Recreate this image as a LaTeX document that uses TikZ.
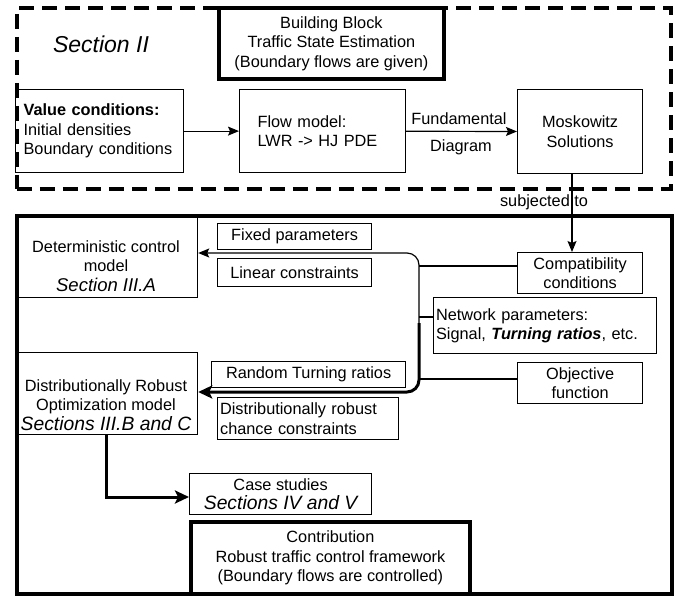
\documentclass[tikz,border=0pt]{standalone}
\usepackage{fontspec}
\setmainfont{Liberation Sans}
\usetikzlibrary{arrows.meta}
\newcommand{\nf}{\fontsize{16.3}{19.5}\selectfont}
\newcommand{\itbig}{\fontsize{19.3}{21}\selectfont\itshape}
\begin{document}
\begin{tikzpicture}[x=1pt,y=-1pt,
  every node/.style={font=\nf, inner sep=0pt},
  box/.style={draw, line width=1.2pt, anchor=north west, align=center},
  thickbox/.style={box, line width=3.8pt},
  dashbox/.style={draw, line width=3.8pt, dash pattern=on 15pt off 8pt, anchor=north west},
  conn/.style={line width=1.2pt, -{Stealth[length=11pt,width=9pt,inset=2pt]}},
  plainconn/.style={line width=1.2pt},
  bigconn/.style={line width=3pt, -{Stealth[length=14pt,width=13pt,inset=3pt]}}]
\useasboundingbox (0,0) rectangle (686,595);
% Section II
\node[dashbox, minimum width=654pt, minimum height=181pt] (sec) at (15,6) {};
\node (seclbl) at (101,44) {\fontsize{23}{26}\selectfont\itshape Section II};
\node[thickbox, minimum width=225pt, minimum height=71pt] (bb) at (217,6)
  {Building Block\\Traffic State Estimation\\(Boundary flows are given)};
\node[box, minimum width=168pt, minimum height=83pt, text width=152pt, align=left] (val) at (15,89)
  {\textbf{Value conditions:}\\Initial densities\\Boundary conditions};
\node[box, minimum width=166pt, minimum height=83pt, text width=130pt, align=left] (flow) at (239,89)
  {Flow model:\\LWR -> HJ PDE};
\node[box, minimum width=125pt, minimum height=84pt] (mosk) at (517,89)
  {Moskowitz\\Solutions};
\draw[conn] (val) -- (flow);
\draw[conn] (flow) -- (mosk);
\node (fund) at (459,119) {Fundamental};
\node (diag) at (461,147) {Diagram};
% lower part
\node[draw, line width=3.8pt, anchor=north west, minimum width=655pt, minimum height=378pt] (outer) at (15,214) {};
\node[box, minimum width=181pt, minimum height=83pt] (det) at (16,214) {};
\node[align=center] (detlbl) at (106,266) {Deterministic control\\model\\{\fontsize{18.5}{20}\selectfont\itshape Section III.A}};
\node[box, minimum width=154pt, minimum height=26pt] (fixed) at (217,223) {Fixed parameters};
\node[box, minimum width=154pt, minimum height=28pt] (lin) at (217,258) {Linear constraints};
\node[box, minimum width=125pt, minimum height=41pt] (compat) at (517,252) {Compatibility\\conditions};
\node[box, minimum width=223pt, minimum height=56pt, text width=218pt, align=left] (net) at (433,297)
  {Network parameters:\\Signal, \textbf{\textit{Turning ratios}}, etc.};
\node[box, minimum width=125pt, minimum height=41pt] (obj) at (517,362) {Objective\\function};
\node[box, minimum width=194pt, minimum height=26pt] (rand) at (211,361) {Random Turning ratios};
\node[box, minimum width=181pt, minimum height=82pt] (dro) at (16,352) {};
\node[align=center] (drolbl) at (106,405) {Distributionally Robust\\Optimization model\\{\itbig Sections III.B and C}};
\node[box, minimum width=181pt, minimum height=42pt, text width=176pt, align=left] (chance) at (217,397)
  {Distributionally robust\\chance constraints};
\node[box, minimum width=182pt, minimum height=41pt] (case) at (189,473) {Case studies\\{\itbig Sections IV and V}};
\node[thickbox, minimum width=279pt, minimum height=72pt] (contrib) at (189,520)
  {Contribution\\Robust traffic control framework\\(Boundary flows are controlled)};
% connectors
\coordinate (mx) at (572,0);
\node (subj) at (544,202) {subjected to};
\draw[conn] (mosk.south -| mx) -- (compat.north -| mx);
\coordinate (vx) at (419,0);
\coordinate (vt) at (419,253);
\coordinate (vb) at (419,392);
\coordinate (h1) at (0,266);
\coordinate (h2) at (0,317);
\coordinate (h3) at (0,379);
\coordinate (vm) at (419,323);
\draw[plainconn] (compat.west |- h1) -- (vx |- h1);
\draw[plainconn] (net.west |- h2) -- (vx |- h2);
\draw[plainconn] (obj.west |- h3) -- (vx |- h3);
\draw[conn, rounded corners=12pt] (vx |- h3) -- (vt) -- (vt -| det.east);
\draw[bigconn, rounded corners=12pt] (vm) -- (vb) -- (vb -| dro.east);
\coordinate (ax) at (106,497);
\draw[bigconn] (dro.south -| ax) -- (ax) -- (ax -| case.west);
\end{tikzpicture}
\end{document}
